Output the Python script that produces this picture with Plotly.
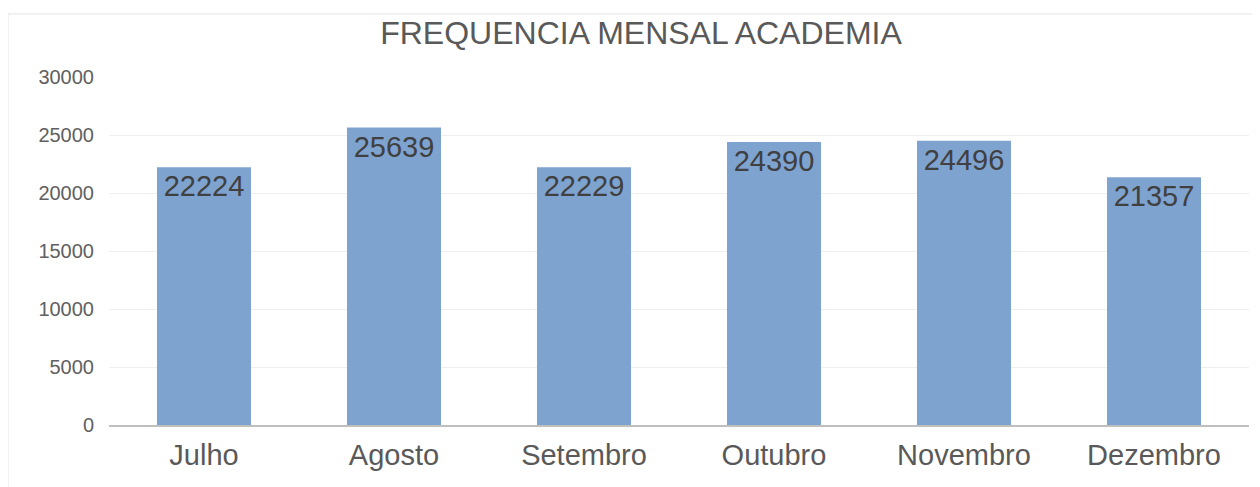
import plotly.graph_objects as go

months = ["Julho", "Agosto", "Setembro", "Outubro", "Novembro", "Dezembro"]
values = [22224, 25639, 22229, 24390, 24496, 21357]
y_ticks = [0, 5000, 10000, 15000, 20000, 25000, 30000]
title_text = "FREQUENCIA MENSAL ACADEMIA"

OFF = 8  # default page body margin
W, H = 1260 - OFF, 487 - OFF
# target plot area in page pixels: x 109..1249, y 77..425
L, R = 109 - OFF, 1260 - 1249
T, B = 77 - OFF, 487 - 425
pw, ph = W - L - R, H - T - B

def px_x(p):
    return (p - OFF - L) / pw

def px_y(p):
    return (H - B - (p - OFF)) / ph

fig = go.Figure()
fig.add_trace(go.Bar(
    x=months, y=values,
    marker=dict(color="#7FA3CF", line=dict(width=0)),
    text=[str(v) for v in values],
    textposition="inside",
    insidetextanchor="end",
    textangle=0,
    textfont=dict(family="Liberation Sans, Arial", size=29, color="#404040"),
    cliponaxis=False,
))

fig.update_layout(
    width=W, height=H,
    margin=dict(l=L, r=R, t=T, b=B),
    paper_bgcolor="white", plot_bgcolor="white",
    bargap=0.505,
    showlegend=False,
    font=dict(family="Liberation Sans, Arial"),
    title=dict(text=title_text, x=(641 - OFF) / W, xanchor="center",
               y=1 - (33 - OFF) / H, yanchor="middle",
               xref="container", yref="container",
               font=dict(family="Liberation Sans, Arial", size=32, color="#595959")),
    uniformtext=dict(minsize=29, mode="show"),
)
fig.update_xaxes(
    showgrid=False, showline=True, linecolor="#BFBFBF", linewidth=2,
    ticks="", tickfont=dict(size=29, color="#595959"), ticklabelstandoff=3,
)
fig.update_yaxes(
    range=[0, 30000], tickvals=y_ticks, ticktext=[str(v) for v in y_ticks],
    showgrid=True, gridcolor="#EFEFEF", gridwidth=1, zeroline=False,
    showline=False, ticks="", tickfont=dict(size=20, color="#606060"),
    ticklabelstandoff=14,
)
fig.add_shape(type="rect", xref="paper", yref="paper",
              x0=px_x(8), x1=px_x(1300), y0=px_y(520), y1=px_y(14),
              line=dict(color="#E3E3E3", width=1), fillcolor="rgba(0,0,0,0)", layer="below")

fig.write_html("out.html")
